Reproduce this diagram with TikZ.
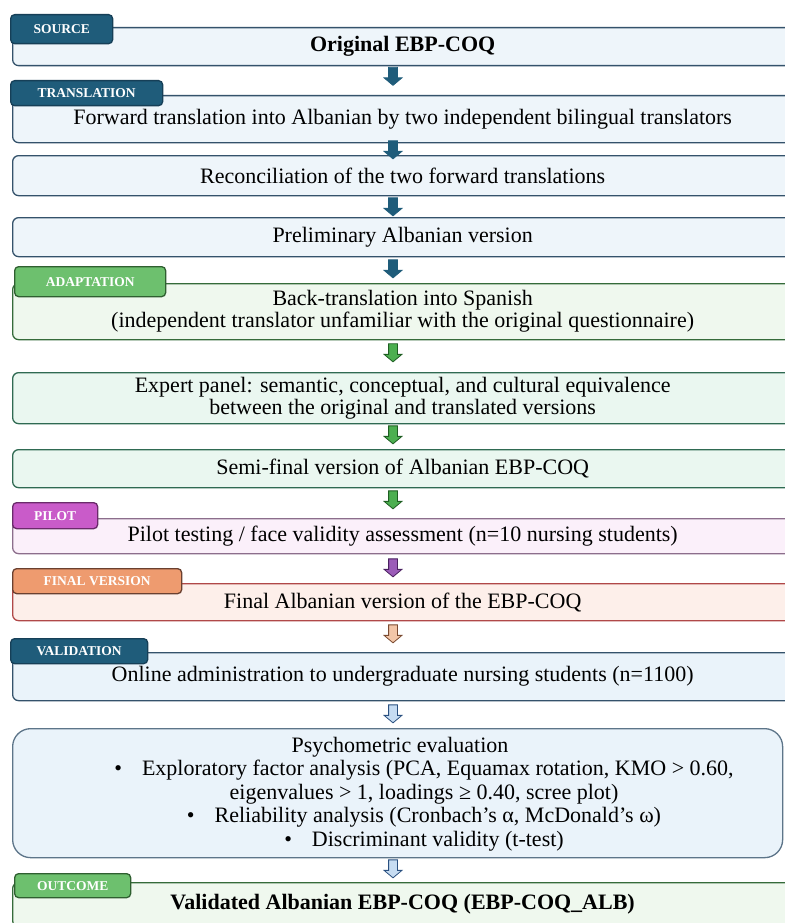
\documentclass[tikz,border=0pt]{standalone}
\usepackage{fontspec}
\setmainfont{Liberation Serif}
\usetikzlibrary{shapes.arrows}
\definecolor{tagblue}{HTML}{1F5C7A}
\definecolor{tagblueline}{HTML}{163F57}
\definecolor{bluefill}{HTML}{EEF5FA}
\definecolor{blueline}{HTML}{34526B}
\definecolor{taggreen}{HTML}{6DC06E}
\definecolor{taggreenline}{HTML}{2F5F30}
\definecolor{greenfill}{HTML}{EFF8EE}
\definecolor{greenline}{HTML}{356B3A}
\definecolor{mintfill}{HTML}{EAF7F0}
\definecolor{mintline}{HTML}{2F6A52}
\definecolor{tagpink}{HTML}{C95BC9}
\definecolor{tagpinkline}{HTML}{6A2A6A}
\definecolor{pinkfill}{HTML}{FBF0FA}
\definecolor{pinkline}{HTML}{8C6E8C}
\definecolor{tagsalmon}{HTML}{EE9B6F}
\definecolor{tagsalmonline}{HTML}{6A4030}
\definecolor{salmonfill}{HTML}{FDEFEA}
\definecolor{salmonline}{HTML}{B04848}
\definecolor{valfill}{HTML}{EAF3FA}
\definecolor{arrblue}{HTML}{1F5C7A}
\definecolor{arrgreen}{HTML}{4CAF50}
\definecolor{arrgreenline}{HTML}{1E5E22}
\definecolor{arrpurple}{HTML}{9B5BB8}
\definecolor{arrpurpleline}{HTML}{4A2060}
\definecolor{arrtan}{HTML}{F2C6A8}
\definecolor{arrtanline}{HTML}{7A4A30}
\definecolor{arrlblue}{HTML}{C6DCF2}
\definecolor{arrlblueline}{HTML}{2A5080}
\newcommand{\shaftbox}{\phantom{\rule{8pt}{8pt}}}
\begin{document}
\begin{tikzpicture}[x=1pt,y=-1pt,
  stage/.style={draw, rounded corners=6pt, line width=1.3pt, minimum width=780pt,
    inner sep=0pt, font=\fontsize{22}{22}\selectfont, align=center, anchor=north west},
  tagbox/.style={draw, rounded corners=4pt, line width=1.3pt, inner sep=0pt,
    anchor=north west, text=white, font=\fontsize{13.5}{13.5}\selectfont\bfseries},
  darr/.style={single arrow, shape border rotate=270, minimum height=18pt,
    single arrow head extend=4.5pt, single arrow tip angle=100,
    inner sep=0pt, line width=0.8pt}
]
\useasboundingbox (0,0) rectangle (784,923);
\fill[white] (0,0) rectangle (784,923);

% stage boxes
\node[stage, fill=bluefill, draw=blueline, minimum height=38pt, font=\fontsize{22}{22}\selectfont\bfseries] (b1) at (12,27) {Original EBP-COQ};
\node[stage, fill=bluefill, draw=blueline, minimum height=47pt] (b2) at (12,95) {\raisebox{-4pt}{Forward translation into Albanian by two independent bilingual translators}};
\node[stage, fill=bluefill, draw=blueline, minimum height=40pt] (b3) at (12,155) {\raisebox{-3pt}{Reconciliation of the two forward translations}};
\node[stage, fill=bluefill, draw=blueline, minimum height=39pt] (b4) at (12,217) {Preliminary Albanian version};
\node[stage, fill=greenfill, draw=greenline, minimum height=56pt] (b5) at (12,283) {Back-translation into Spanish\\(independent translator unfamiliar with the original questionnaire)};
\node[stage, fill=mintfill, draw=mintline, minimum height=51pt] (b6) at (12,372) {Expert panel: semantic, conceptual, and cultural equivalence\\between the original and translated versions};
\node[stage, fill=mintfill, draw=mintline, minimum height=38pt] (b7) at (12,449) {Semi-final version of Albanian EBP-COQ};
\node[stage, fill=pinkfill, draw=pinkline, minimum height=35pt] (b8) at (12,518) {Pilot testing / face validity assessment (n=10 nursing students)};
\node[stage, fill=salmonfill, draw=salmonline, minimum height=37pt] (b9) at (12,583) {Final Albanian version of the EBP-COQ};
\node[stage, fill=valfill, draw=blueline, minimum height=48pt] (b10) at (12,652) {\raisebox{3pt}{Online administration to undergraduate nursing students (n=1100)}};
\node[stage, fill=valfill, draw=blueline!80, minimum height=129pt, minimum width=770pt, rounded corners=18pt] (b11) at (12,728) {};
\node[font=\fontsize{22}{23.5}\selectfont, align=center, inner sep=0pt] (psy) at (424,794) {%
Psychometric evaluation\hspace*{48pt}\\
\textbullet\hspace{20pt}Exploratory factor analysis (PCA, Equamax rotation, KMO > 0.60,\\
eigenvalues > 1, loadings ≥ 0.40, scree plot)\\
\textbullet\hspace{20pt}Reliability analysis (Cronbach’s α, McDonald’s ω)\\
\textbullet\hspace{20pt}Discriminant validity (t-test)};
\node[stage, fill=greenfill, draw=greenline, minimum height=44pt, font=\fontsize{22}{22}\selectfont\bfseries] (b12) at (12,882) {\raisebox{3pt}{Validated Albanian EBP-COQ (EBP-COQ\_ALB)}};

% tags
\node[tagbox, fill=tagblue, draw=tagblueline, minimum width=102pt, minimum height=29pt] (t1) at (10,14) {SOURCE};
\node[tagbox, fill=tagblue, draw=tagblueline, minimum width=152pt, minimum height=25pt] (t2) at (10,80) {TRANSLATION};
\node[tagbox, fill=taggreen, draw=taggreenline, minimum width=151pt, minimum height=30pt] (t3) at (14,266) {ADAPTATION};
\node[tagbox, fill=tagpink, draw=tagpinkline, minimum width=85pt, minimum height=26pt] (t4) at (12,502) {PILOT};
\node[tagbox, fill=tagsalmon, draw=tagsalmonline, minimum width=169pt, minimum height=25pt] (t5) at (12,568) {FINAL VERSION};
\node[tagbox, fill=tagblue, draw=tagblueline, minimum width=137pt, minimum height=25pt] (t6) at (10,638) {VALIDATION};
\node[tagbox, fill=taggreen, draw=taggreenline, minimum width=116pt, minimum height=24pt] (t7) at (14,873) {OUTCOME};

% arrows between stages
\node[darr, fill=arrblue, draw=arrblue] (a1) at (393,74.5) {\shaftbox};
\node[darr, fill=arrblue, draw=arrblue] (a2) at (393,148) {\shaftbox};
\node[darr, fill=arrblue, draw=arrblue] (a3) at (393,205) {\shaftbox};
\node[darr, fill=arrblue, draw=arrblue] (a4) at (393,267) {\shaftbox};
\node[darr, fill=arrgreen, draw=arrgreenline] (a5) at (393,351) {\shaftbox};
\node[darr, fill=arrgreen, draw=arrgreenline] (a6) at (393,433) {\shaftbox};
\node[darr, fill=arrgreen, draw=arrgreenline] (a7) at (393,498) {\shaftbox};
\node[darr, fill=arrpurple, draw=arrpurpleline] (a8) at (393,566) {\shaftbox};
\node[darr, fill=arrtan, draw=arrtanline] (a9) at (393,632) {\shaftbox};
\node[darr, fill=arrlblue, draw=arrlblueline] (a10) at (393,712) {\shaftbox};
\node[darr, fill=arrlblue, draw=arrlblueline] (a11) at (393,867) {\shaftbox};
\end{tikzpicture}
\end{document}
